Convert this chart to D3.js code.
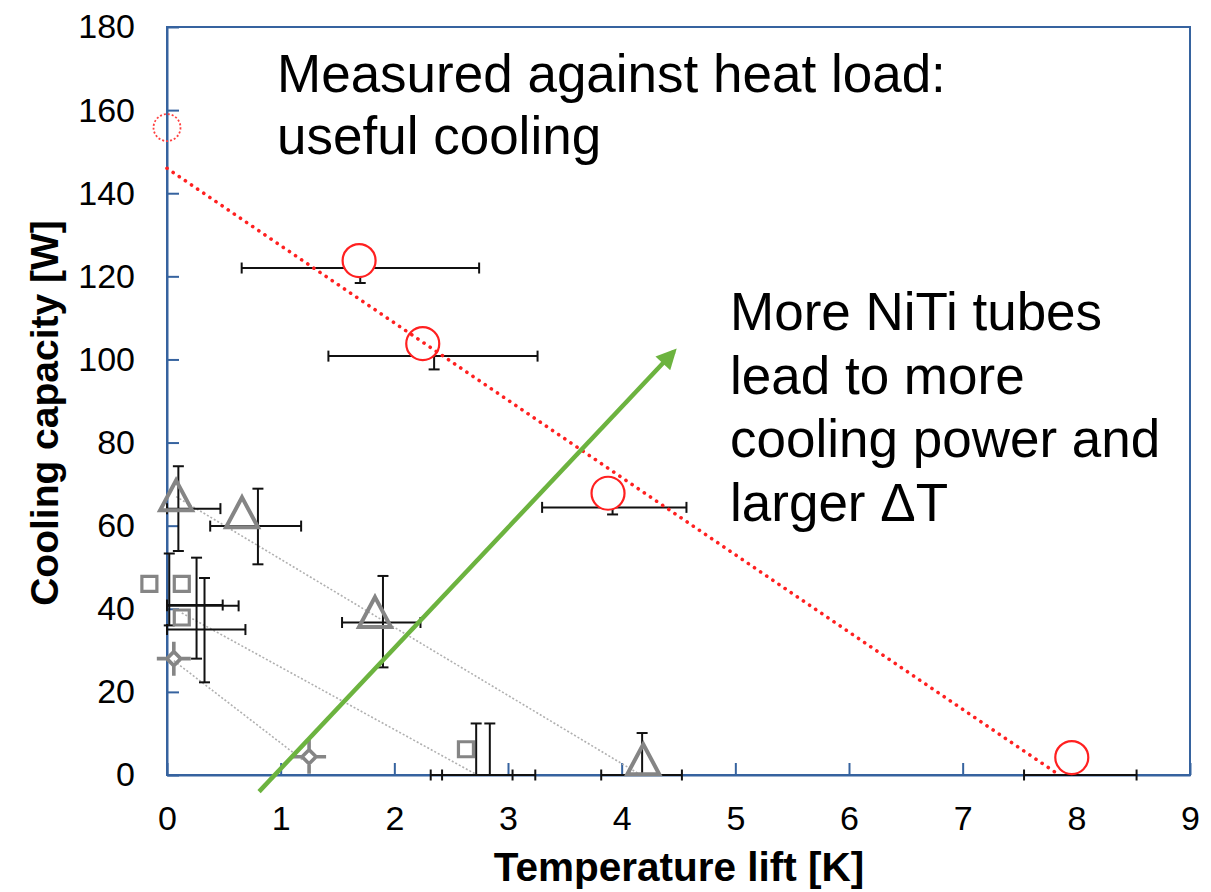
<!DOCTYPE html>
<html>
<head>
<meta charset="utf-8">
<script src="https://cdn.jsdelivr.net/npm/d3@7"></script>
<style>
  body { margin: 0; background: #fff; }
  svg { display: block; font-family: 'Liberation Sans', Arial, sans-serif; }
</style>
</head>
<body>
<svg id="chart" width="1211" height="892"></svg>
<script>
// markers: temperature lift [K], cooling capacity [W]
const circles = [[1.69, 123.8], [2.25, 103.8], [3.88, 67.8], [7.96, 4.2]]
const circleOpen = [[0, 155.8]]
const triangles = [[0.08, 67.3], [0.66, 63.2], [1.83, 39.2], [4.19, 3.8]]
const squares = [[-0.155, 46], [0.13, 46], [0.13, 37.9], [2.63, 6.2]]
const stars = [[0.06, 28], [1.25, 4.4]]

// error bars: horizontal [y, xLo, xHi], vertical [x, yLo, yHi]
const redErrX = [[122, 0.657, 2.746], [100.8, 1.42, 3.26], [64.4, 3.30, 4.57], [0, 7.54, 8.53]]
const redErrY = [[1.70, 118.4, 123.8], [2.35, 97.6, 103], [3.92, 62.7, 67.8]]
const greyErrX = [[64.1, 0, 0.47], [59.9, 0.38, 1.18], [36.7, 1.54, 2.23], [0, 3.82, 4.53],
  [40.9, 0, 0.49], [40.7, 0, 0.63], [35, 0, 0.69], [0, 2.32, 3.24], [0, 2.42, 3.04]]
const greyErrY = [[0.10, 53.9, 74.3], [0.80, 50.7, 68.9], [1.90, 25.9, 47.9], [4.18, 0, 10.1],
  [0.02, 36, 53.3], [0.26, 28, 52.3], [0.33, 22.3, 47.4], [2.72, 0, 12.4], [2.84, 0, 12.4]]

// linear fits
const redFit = [[0, 146], [7.85, 0]]
const greyFits = [
  [[0.08, 67], [4.15, 0.3]],
  [[0.13, 39], [2.73, 0]],
  [[0.06, 27.5], [1.2, 3.5]]
]
const arrowPts = [[0.81, -4.0], [4.46, 101.9]]

const xTicks = d3.range(0, 10)
const yTicks = d3.range(0, 181, 20)

const svg = d3.select('#chart')
const x = d3.scaleLinear().domain([0, 9]).range([167, 1190])
const y = d3.scaleLinear().domain([0, 180]).range([775, 27])
const axisColor = '#36639f'

const defs = svg.append('defs')
defs.append('marker').attr('id', 'head')
  .attr('viewBox', '0 0 10 10').attr('refX', 8).attr('refY', 5)
  .attr('markerWidth', 5.5).attr('markerHeight', 4.5).attr('orient', 'auto')
  .attr('markerUnits', 'strokeWidth')
  .append('path').attr('d', 'M0,0 L10,5 L0,10 Z').attr('fill', '#6cb33f')

// frame
svg.append('rect')
  .attr('x', x(0)).attr('y', y(180))
  .attr('width', x(9) - x(0)).attr('height', y(0) - y(180))
  .attr('fill', 'none').attr('stroke', axisColor).attr('stroke-width', 2)

const gx = svg.append('g').attr('transform', `translate(0,${y(0)})`)
  .call(d3.axisBottom(x).tickValues(xTicks).tickSizeInner(-12).tickSizeOuter(0).tickPadding(31))
const gy = svg.append('g').attr('transform', `translate(${x(0)},0)`)
  .call(d3.axisLeft(y).tickValues(yTicks).tickSizeInner(-12).tickSizeOuter(0).tickPadding(32))
for (const g of [gx, gy]) {
  g.selectAll('path, line').attr('stroke', axisColor).attr('stroke-width', 2)
  g.selectAll('text').attr('fill', '#000').style('font-size', '34px')
    .style('font-family', "'Liberation Sans', Arial, sans-serif")
}

// grey fit lines
const line = d3.line().x(d => x(d[0])).y(d => y(d[1]))
svg.append('g').selectAll('path').data(greyFits).enter().append('path')
  .attr('d', line).attr('fill', 'none')
  .attr('stroke', '#b0b0b0').attr('stroke-width', 1.6).attr('stroke-dasharray', '2,2')

// error bars
const errG = svg.append('g').attr('stroke', '#111').attr('stroke-width', 2)
const cap = 5.5
const drawErrX = (data) => data.forEach(([yv, a, b]) => {
  errG.append('line').attr('x1', x(a)).attr('x2', x(b)).attr('y1', y(yv)).attr('y2', y(yv))
  errG.append('line').attr('x1', x(a)).attr('x2', x(a)).attr('y1', y(yv) - cap).attr('y2', y(yv) + cap)
  errG.append('line').attr('x1', x(b)).attr('x2', x(b)).attr('y1', y(yv) - cap).attr('y2', y(yv) + cap)
})
const drawErrY = (data) => data.forEach(([xv, a, b]) => {
  errG.append('line').attr('x1', x(xv)).attr('x2', x(xv)).attr('y1', y(a)).attr('y2', y(b))
  errG.append('line').attr('x1', x(xv) - cap).attr('x2', x(xv) + cap).attr('y1', y(a)).attr('y2', y(a))
  errG.append('line').attr('x1', x(xv) - cap).attr('x2', x(xv) + cap).attr('y1', y(b)).attr('y2', y(b))
})
drawErrX(redErrX)
drawErrY(redErrY)
drawErrX(greyErrX)
drawErrY(greyErrY)

// markers
const grey = '#858585'
const tri = 'M0,-15 L16,15 L-16,15 Z'
const sq = 'M-7.5,-7.5 H7.5 V7.5 H-7.5 Z'
const star = 'M0,-17 V-7 M0,7 V17 M-17,0 H-7 M7,0 H17 M0,-7 L7,0 L0,7 L-7,0 Z'

const addMarkers = (data, d, w) => svg.append('g').selectAll('path').data(data).enter().append('path')
  .attr('transform', p => `translate(${x(p[0])},${y(p[1])})`)
  .attr('d', d).attr('fill', 'none').attr('stroke', grey).attr('stroke-width', w)
  .attr('stroke-linejoin', 'miter')
addMarkers(triangles, tri, 4)
addMarkers(squares, sq, 3.2)
addMarkers(stars, star, 3.6)

svg.append('g').selectAll('circle').data(circles).enter().append('circle')
  .attr('cx', p => x(p[0])).attr('cy', p => y(p[1])).attr('r', 16.5)
  .attr('fill', '#fff').attr('stroke', '#ff2020').attr('stroke-width', 2.2)
svg.append('g').selectAll('circle').data(circleOpen).enter().append('circle')
  .attr('cx', p => x(p[0])).attr('cy', p => y(p[1])).attr('r', 13.5)
  .attr('fill', 'none').attr('stroke', '#ff4040').attr('stroke-width', 1.8).attr('stroke-dasharray', '2,2')

// red fit
svg.append('path').datum(redFit).attr('d', line).attr('fill', 'none')
  .attr('stroke', '#ff2020').attr('stroke-width', 3.6).attr('stroke-linecap', 'round')
  .attr('stroke-dasharray', '0.1,7.3')

// green arrow
svg.append('path').datum(arrowPts).attr('d', line).attr('fill', 'none')
  .attr('stroke', '#6cb33f').attr('stroke-width', 4.5).attr('marker-end', 'url(#head)')

// annotations
const note = (lines, tx, ty, dy) => {
  const t = svg.append('text').attr('x', tx).attr('y', ty).style('font-size', '53px').attr('fill', '#000')
  lines.forEach((s, i) => t.append('tspan').attr('x', tx).attr('y', ty + i * dy).text(s))
}
note(['Measured against heat load:', 'useful cooling'], 277, 92, 61.5)
note(['More NiTi tubes', 'lead to more', 'cooling power and', 'larger \u0394T'], 730, 330, 63.5)

// axis titles
svg.append('text').attr('x', 679).attr('y', 881).attr('text-anchor', 'middle')
  .style('font-size', '40.5px').style('font-weight', 'bold').text('Temperature lift [K]')
svg.append('text').attr('transform', 'translate(58,413) rotate(-90)').attr('text-anchor', 'middle')
  .style('font-size', '39px').style('font-weight', 'bold').text('Cooling capacity [W]')
</script>
</body>
</html>
